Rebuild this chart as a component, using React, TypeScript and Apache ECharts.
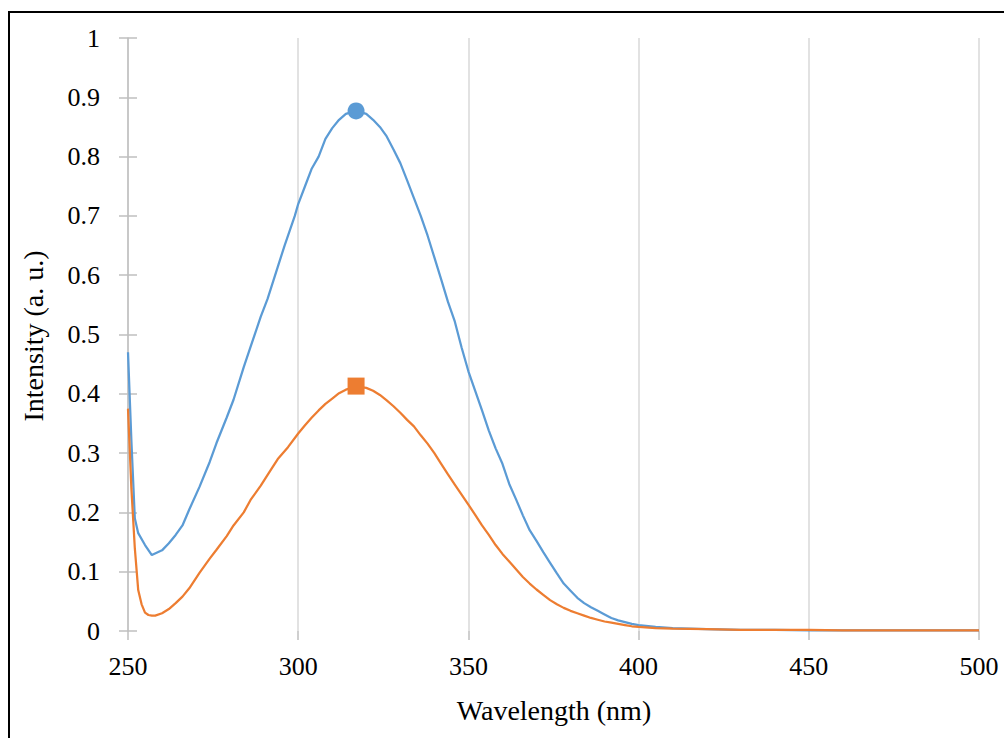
import React, { useEffect, useRef } from "react";
import * as echarts from "echarts";

const blueX = [250, 251, 252, 253, 255, 257, 260, 262, 264, 266, 268, 271, 274, 276, 279, 281, 284, 286, 289, 291, 294, 296, 299, 300, 302, 304, 306, 308, 310, 312, 314, 317, 320, 322, 324, 326, 328, 330, 332, 334, 336, 338, 340, 342, 344, 346, 348, 350, 352, 354, 356, 358, 360, 362, 364, 366, 368, 370, 372, 374, 376, 378, 380, 382, 384, 386, 388, 390, 392, 394, 396, 398, 400, 405, 410, 415, 420, 430, 440, 450, 460, 480, 500];
const blueY = [0.47, 0.32, 0.19, 0.165, 0.145, 0.128, 0.136, 0.148, 0.162, 0.178, 0.205, 0.243, 0.285, 0.317, 0.36, 0.39, 0.445, 0.479, 0.53, 0.56, 0.614, 0.65, 0.7, 0.72, 0.75, 0.78, 0.8, 0.83, 0.848, 0.862, 0.872, 0.877, 0.872, 0.862, 0.85, 0.834, 0.812, 0.789, 0.76, 0.73, 0.7, 0.667, 0.63, 0.593, 0.555, 0.522, 0.478, 0.438, 0.405, 0.372, 0.338, 0.308, 0.282, 0.248, 0.222, 0.195, 0.17, 0.152, 0.133, 0.115, 0.097, 0.08, 0.068, 0.056, 0.047, 0.04, 0.034, 0.028, 0.022, 0.018, 0.015, 0.012, 0.01, 0.007, 0.005, 0.004, 0.003, 0.002, 0.002, 0.001, 0.001, 0.001, 0.001];

const orangeX = [250, 251, 252, 253, 254, 255, 256, 257, 258, 260, 262, 264, 266, 268, 271, 274, 276, 279, 281, 284, 286, 289, 292, 294, 297, 300, 302, 304, 306, 308, 310, 312, 314, 317, 320, 322, 324, 326, 328, 330, 332, 334, 336, 338, 340, 342, 344, 346, 348, 350, 352, 354, 356, 358, 360, 362, 364, 366, 368, 370, 372, 374, 376, 378, 380, 382, 384, 386, 388, 390, 392, 394, 396, 398, 400, 405, 410, 420, 430, 440, 450, 460, 480, 500];
const orangeY = [0.375, 0.24, 0.14, 0.069, 0.045, 0.031, 0.027, 0.026, 0.026, 0.03, 0.037, 0.047, 0.058, 0.072, 0.098, 0.122, 0.137, 0.16, 0.178, 0.2, 0.221, 0.245, 0.272, 0.29, 0.31, 0.333, 0.347, 0.36, 0.372, 0.383, 0.392, 0.401, 0.407, 0.412, 0.41, 0.405, 0.398, 0.389, 0.379, 0.368, 0.356, 0.345, 0.33, 0.316, 0.3, 0.282, 0.264, 0.247, 0.23, 0.213, 0.196, 0.178, 0.162, 0.145, 0.13, 0.117, 0.104, 0.091, 0.08, 0.07, 0.061, 0.052, 0.045, 0.039, 0.034, 0.03, 0.026, 0.022, 0.019, 0.016, 0.014, 0.012, 0.01, 0.008, 0.007, 0.005, 0.004, 0.003, 0.002, 0.002, 0.002, 0.001, 0.001, 0.001];

const bluePeak = [317, 0.877];
const orangePeak = [317, 0.413];

const xTitle = "Wavelength (nm)";
const yTitle = "Intensity (a. u.)";

const FONT = "'Liberation Serif', 'DejaVu Serif', serif";
const BLUE = "#5b9bd5";
const ORANGE = "#ed7d31";

export default function App() {
  const ref = useRef<HTMLDivElement>(null);
  useEffect(() => {
    if (!ref.current) return;
    const chart = echarts.init(ref.current, null, { renderer: "svg" });
    const axisGray = "#bfbfbf";
    chart.setOption({
      animation: false,
      backgroundColor: "transparent",
      grid: { left: 128, right: 25, top: 38, bottom: 107, containLabel: false },
      xAxis: {
        type: "value",
        min: 250,
        max: 500,
        interval: 50,
        axisLine: { show: false },
        axisTick: { show: true, inside: false, length: 9, lineStyle: { color: axisGray, width: 1.5 } },
        axisLabel: { color: "#000", fontFamily: FONT, fontSize: 26, margin: 22 },
        splitLine: { show: true, lineStyle: { color: "#d9d9d9", width: 1.5 } },
      },
      yAxis: [
        {
          type: "value",
          min: 0,
          max: 1,
          interval: 0.1,
          axisLine: { show: true, lineStyle: { color: axisGray, width: 1.5 } },
          axisTick: { show: true, inside: false, length: 9, lineStyle: { color: axisGray, width: 1.5 } },
          axisLabel: { color: "#000", fontFamily: FONT, fontSize: 26, margin: 28 },
          splitLine: { show: false },
        },
        {
          type: "value",
          position: "left",
          min: 0,
          max: 1,
          interval: 0.1,
          axisLine: { show: false },
          axisTick: { show: true, inside: true, length: 9, lineStyle: { color: axisGray, width: 1.5 } },
          axisLabel: { show: false },
          splitLine: { show: false },
        },
      ],
      graphic: [
        {
          type: "text",
          x: 33,
          y: 336,
          rotation: Math.PI / 2,
          style: { text: yTitle, font: `28px ${FONT}`, fill: "#000", align: "center", verticalAlign: "middle" },
        },
        {
          type: "text",
          x: 554,
          y: 710,
          style: { text: xTitle, font: `28px ${FONT}`, fill: "#000", align: "center", verticalAlign: "middle" },
        },
        {
          type: "rect",
          shape: { x: 9, y: 12, width: 1200, height: 900 },
          style: { fill: "none", stroke: "#000", lineWidth: 2 },
          silent: true,
        },
      ],
      series: [
        {
          type: "line",
          data: blueX.map((x, i) => [x, blueY[i]]),
          showSymbol: false,
          symbol: "none",
          lineStyle: { color: BLUE, width: 2.25 },
          z: 3,
        },
        {
          type: "line",
          data: orangeX.map((x, i) => [x, orangeY[i]]),
          showSymbol: false,
          symbol: "none",
          lineStyle: { color: ORANGE, width: 2.25 },
          z: 3,
        },
        {
          type: "scatter",
          data: [bluePeak],
          symbol: "circle",
          symbolSize: 17,
          itemStyle: { color: BLUE, opacity: 1 },
          z: 4,
        },
        {
          type: "scatter",
          data: [orangePeak],
          symbol: "rect",
          symbolSize: 17,
          itemStyle: { color: ORANGE, opacity: 1 },
          z: 4,
        },
      ],
    });
    return () => chart.dispose();
  }, []);
  return (
    <div style={{ position: "fixed", left: 0, top: 0, width: 1004, height: 738, overflow: "hidden", background: "#fff" }}>
      <div ref={ref} style={{ width: 1004, height: 738 }} />
    </div>
  );
}
